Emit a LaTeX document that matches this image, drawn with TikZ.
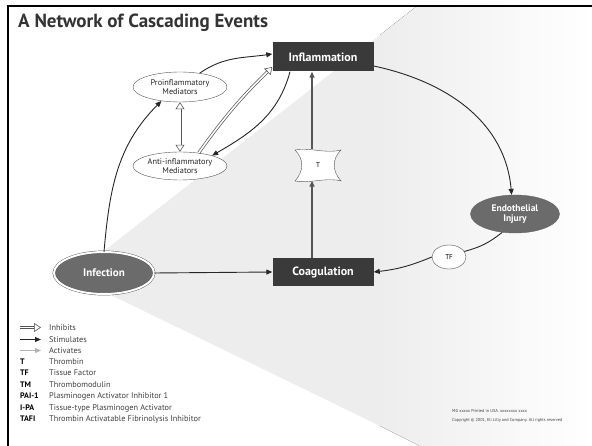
\documentclass[tikz,border=0pt]{standalone}
\usepackage{fontspec}
\setmainfont{PT Sans}
\usetikzlibrary{shapes.geometric, arrows.meta, positioning, calc}
\definecolor{boxgray}{HTML}{3A3A3A}
\definecolor{ovalgray}{HTML}{6B6B6B}
\definecolor{linegray}{HTML}{555555}
\definecolor{textgray}{HTML}{404040}

\begin{document}
\begin{tikzpicture}[x=1pt,y=1pt,
    procbox/.style={rectangle, fill=boxgray, text=white, inner sep=0pt,
        font=\bfseries\fontsize{12}{12}\selectfont, minimum width=101pt, minimum height=29pt},
    medoval/.style={ellipse, draw=linegray, fill=white, text=black!85, inner sep=0pt, align=center,
        font=\fontsize{8.3}{9}\selectfont, minimum width=94pt, minimum height=30pt},
    darkoval/.style={ellipse, fill=ovalgray, text=white, inner sep=0pt, align=center},
    stim/.style={draw=black!85, line width=0.9pt, -{Triangle[length=6pt,width=5pt]}},
    inhib/.style={draw=linegray, line width=3pt, shorten >=6.5pt,
        postaction={draw=white, line width=1.6pt, shorten >=0pt,
            -{Triangle[open,length=7pt,width=9pt,color=linegray,fill=white,line width=0.6pt]}}},
    inhibboth/.style={draw=linegray, line width=3pt, shorten >=6.5pt, shorten <=6.5pt,
        postaction={draw=white, line width=1.6pt, shorten >=0pt, shorten <=0pt,
            {Triangle[open,length=7pt,width=9pt,color=linegray,fill=white,line width=0.6pt]}-%
            {Triangle[open,length=7pt,width=9pt,color=linegray,fill=white,line width=0.6pt]}}},
    act/.style={draw=black!30, line width=0.9pt, -{Triangle[length=6pt,width=5pt]}},
    legtext/.style={anchor=base west, inner sep=0pt, text=textgray, font=\fontsize{8.3}{9}\selectfont},
    legabbr/.style={anchor=base west, inner sep=0pt, font=\bfseries\fontsize{8}{9}\selectfont}
]
\useasboundingbox (0,0) rectangle (592,-446);

% grey cone behind the cycle
\fill[black!7] (72,-276) -- (380,-35) -- (380,-426) -- cycle;
\fill[left color=black!7, middle color=white, right color=white]
    (380,-35) -- (417,-6) -- (592,-6) -- (592,-446) -- (420,-446) -- (380,-426) -- cycle;

% frame
\draw[line width=2.5pt] (8,-446) -- (8,-6) -- (592,-6);

\node[anchor=base west, inner sep=0pt, font=\bfseries\fontsize{19}{19}\selectfont, text=black!80]
    (title) at (18,-28) {A Network of Cascading Events};

% main nodes
\node[procbox] (infl) at (323,-57) {Inflammation};
\node[procbox, minimum height=28pt] (coag) at (323,-272) {Coagulation};
\node[darkoval, draw=linegray, double=white, double distance=2pt, minimum width=100pt, minimum height=42pt,
    font=\bfseries\fontsize{11}{12}\selectfont] (inf) at (104,-273) {Infection};
\node[darkoval, draw=black!60, minimum width=89pt, minimum height=38pt,
    font=\bfseries\fontsize{9.5}{10}\selectfont] (endo) at (515,-214) {Endothelial\\Injury};
\node[ellipse, draw=linegray, fill=white, inner sep=0pt, minimum width=34pt, minimum height=24pt,
    font=\fontsize{7}{7}\selectfont] (tf) at (449,-257) {TF};
\node[medoval] (pro) at (180,-87) {Proinflammatory\\Mediators};
\node[medoval, minimum height=28pt] (anti) at (180,-166) {Anti-inflammatory\\Mediators};

% thrombin
\coordinate (tc) at (318,-165);
\draw[draw=linegray, fill=white, shift={(tc)}]
    (-23,15) .. controls (-10,18) and (8,11) .. (23,15)
    .. controls (14,6) and (14,-6) .. (23,-16)
    .. controls (8,-12) and (-10,-19) .. (-23,-16)
    .. controls (-14,-6) and (-14,6) .. (-23,15) -- cycle;
\node[inner sep=0pt, minimum width=46pt, minimum height=31pt, font=\fontsize{7}{7}\selectfont] (T) at (tc) {T};

% connectors
\draw[stim] (inf.north) to[out=85, in=225] (pro.217);
\draw[stim] (pro.35) to[out=35, in=188] ([yshift=3pt]infl.west);
\draw[inhibboth] (pro.south) -- (anti.north);
\draw[inhib] (anti.35) to[bend left=5] ([yshift=-10pt]infl.west);
\draw[stim] ([xshift=-33pt]infl.south) to[out=255, in=30] (anti.18);
\draw[stim] ([yshift=-9pt]infl.east) to[out=-12, in=95] (endo.100);
\draw[draw=black!85, line width=0.9pt] (endo.235) to[bend left=12] (tf.20);
\draw[stim] (tf.west) to[bend left=8] (coag.east);
\draw[stim] (inf.east) -- (coag.west);
\draw[stim, draw=linegray, line width=1.3pt] ([xshift=-11pt]coag.north) -- ([xshift=-6pt]T.south);
\draw[stim, draw=linegray, line width=1.3pt] ([xshift=-6pt]T.north) -- ([xshift=-11pt]infl.south);

% legend
\node[legtext] (l-inh) at (49,-330.5) {Inhibits};
\node[legtext] (l-stim) at (49,-342.5) {Stimulates};
\node[legtext] (l-act) at (49,-353.5) {Activates};
\coordinate (s-inh) at (20,-327.5);
\coordinate (s-stim) at (20,-339.5);
\coordinate (s-act) at (20,-350.5);
\draw[inhib] (s-inh) -- ([xshift=-8pt]l-inh.west |- s-inh);
\draw[stim] (s-stim) -- ([xshift=-8pt]l-stim.west |- s-stim);
\draw[act] (s-act) -- ([xshift=-8pt]l-act.west |- s-act);
\foreach \ab/\txt [count=\i] in {T/Thrombin, TF/Tissue Factor, TM/Thrombomodulin,
    PAI-1/Plasminogen Activator Inhibitor 1, I-PA/Tissue-type Plasminogen Activator,
    TAFI/Thrombin Activatable Fibrinolysis Inhibitor}
{
    \node[legabbr] (ab\i) at (20,{-364.5-11.4*(\i-1)}) {\ab};
    \node[legtext] (de\i) at (49,{-364.5-11.4*(\i-1)}) {\txt};
}

% footer
\node[anchor=base west, inner sep=0pt, text=textgray, font=\fontsize{4.3}{5}\selectfont]
    (mg) at (452,-413) {MG xxxxx Printed in USA. xxxxxxxx xxxx};
\node[anchor=base west, inner sep=0pt, text=textgray, font=\fontsize{4.3}{5}\selectfont]
    (copy) at (452,-421) {Copyright © 2001, Eli Lilly and Company. All rights reserved};
\end{tikzpicture}
\end{document}
